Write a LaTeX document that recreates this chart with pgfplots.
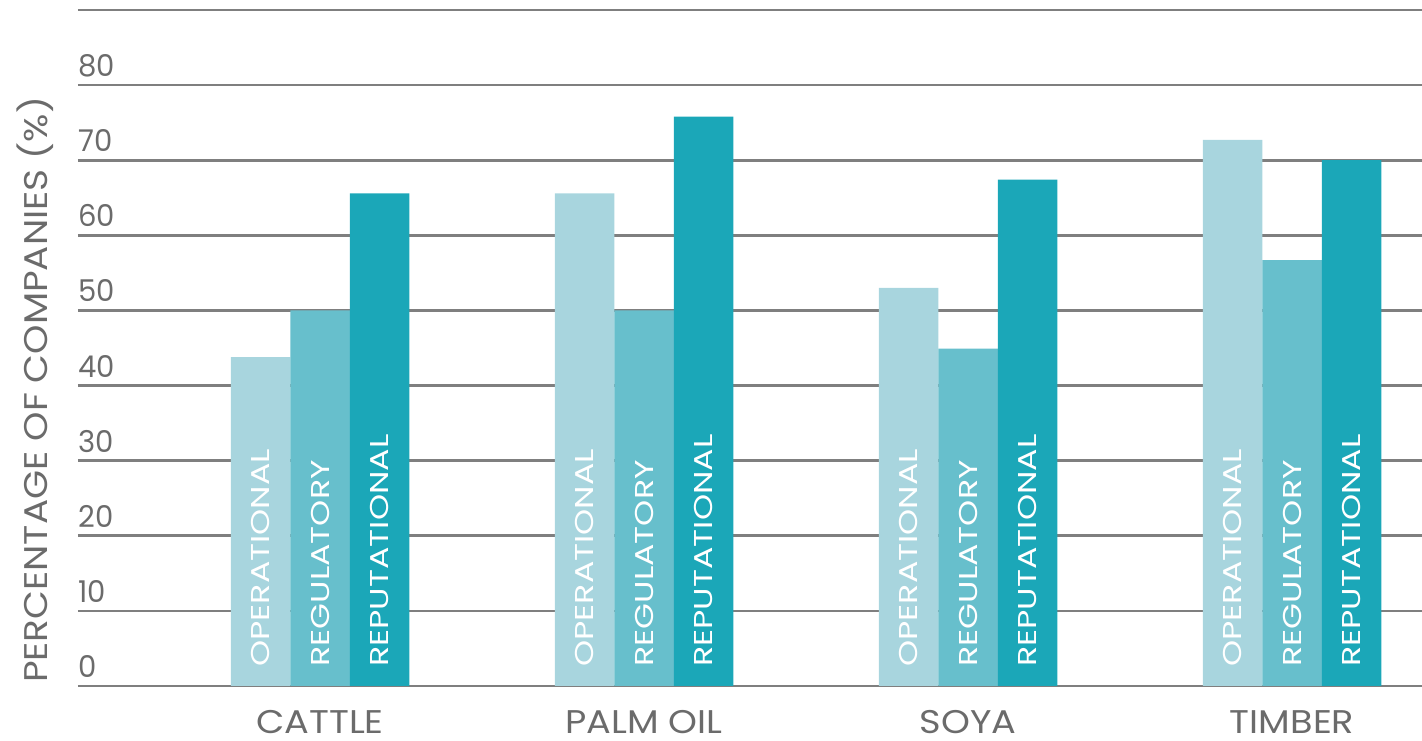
\documentclass[border=0pt]{standalone}
\usepackage{pgfplots}
\pgfplotsset{compat=1.18}
\usepackage{fontspec}
\setmainfont{Poppins}
\newfontfamily\tickfont{Poppins}[FakeStretch=0.97]
\newfontfamily\catfont{Poppins}[FakeStretch=1.12]
\newfontfamily\ylfont{Poppins}[FakeStretch=1.14]
\newfontfamily\barfont{Poppins}[FakeStretch=1.29]
\definecolor{opc}{HTML}{A8D5DE}
\definecolor{regc}{HTML}{67BFCC}
\definecolor{repc}{HTML}{1BA7B8}
\definecolor{gridc}{HTML}{7F7F7F}
\definecolor{txtc}{HTML}{6B6B6B}
\begin{document}
\begin{tikzpicture}
\begin{axis}[
  scale only axis,
  width=672pt, height=338pt,
  xmin=-0.747, xmax=3.401,
  ymin=0, ymax=90,
  axis line style={draw=none},
  major tick length=0pt,
  ytick={0,10,...,80},
  extra y ticks={90},
  extra y tick labels={},
  extra y tick style={grid=major},
  ymajorgrids,
  grid style={gridc, line width=1.3pt},
  /pgf/number format/assume math mode=true,
  yticklabel style={anchor=south west, inner sep=0pt, yshift=4pt, font=\tickfont\fontsize{15}{18}\selectfont, text=txtc},
  xtick={0,1,2,3},
  xticklabels={CATTLE, PALM OIL, SOYA, TIMBER},
  xticklabel style={anchor=base, inner sep=0pt, yshift=-23.8pt, font=\catfont\fontsize{16.4}{19}\selectfont, text=txtc},
  ylabel={PERCENTAGE OF COMPANIES (\%)},
  ylabel style={at={(axis description cs:0,0.438)}, anchor=center, yshift=21.5pt, font=\ylfont\fontsize{16.4}{19}\selectfont, text=txtc},
  ybar, bar width=0.1836,
  every axis plot/.append style={draw=none},
  clip=false,
]
\addplot[fill=opc, bar shift=-0.1836] coordinates {(0,43.8) (1,65.6) (2,53.0) (3,72.7)};
\addplot[fill=regc, bar shift=0] coordinates {(0,50.0) (1,50.0) (2,44.9) (3,56.7)};
\addplot[fill=repc, bar shift=0.1836] coordinates {(0,65.6) (1,75.8) (2,67.4) (3,70.0)};
\pgfplotsinvokeforeach{0,1,2,3}{
  \node[rotate=90, anchor=west, inner sep=0pt, text=white, font=\barfont\fontsize{12.9}{15}\selectfont, xshift=9.5pt] at (axis cs:#1-0.1836,0) {OPERATIONAL};
  \node[rotate=90, anchor=west, inner sep=0pt, text=white, font=\barfont\fontsize{12.9}{15}\selectfont, xshift=9.5pt] at (axis cs:#1,0) {REGULATORY};
  \node[rotate=90, anchor=west, inner sep=0pt, text=white, font=\barfont\fontsize{12.9}{15}\selectfont, xshift=9.5pt] at (axis cs:#1+0.1836,0) {REPUTATIONAL};
}
\end{axis}
\pgfresetboundingbox
\path (current axis.south west) ++(-39pt,-27.5pt) rectangle ([yshift=5pt]current axis.north east);
\end{tikzpicture}
\end{document}
